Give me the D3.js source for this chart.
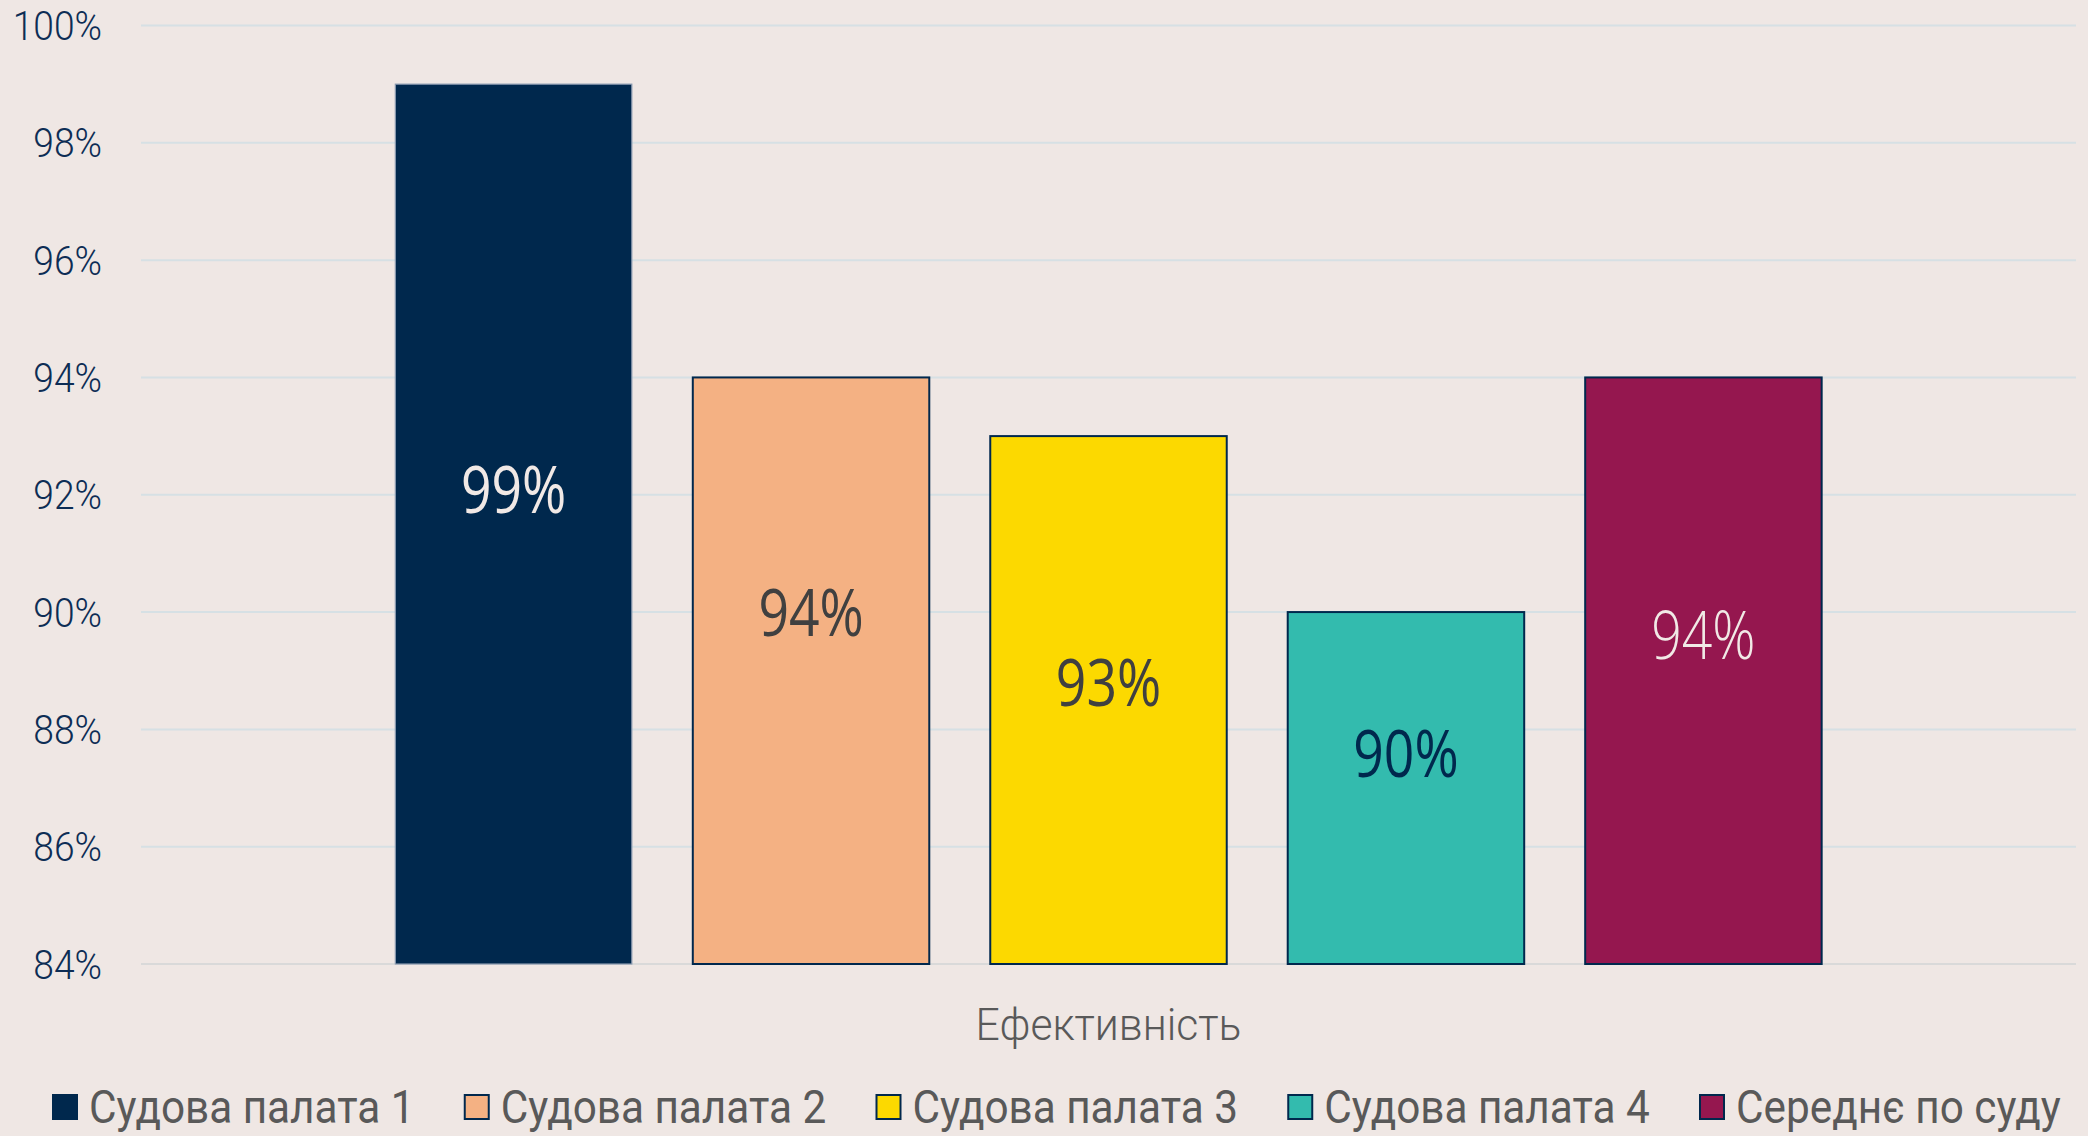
<!DOCTYPE html>
<html>
<head>
<meta charset="utf-8">
<script src="https://cdn.jsdelivr.net/npm/d3@7"></script>
<style>
  body { margin: 0; background: #efe7e4; }
  svg { display: block; }
</style>
</head>
<body>
<svg width="2088" height="1136"></svg>
<script>

// data
const category = "Ефективність";
const series = ["Судова палата 1", "Судова палата 2", "Судова палата 3", "Судова палата 4", "Середнє по суду"];
const values = [99, 94, 93, 90, 94];
// where each value label sits inside its bar (in % units)
const labelLevels = [92.1, 90.0, 88.8, 87.6, 89.6];
const tickValues = [84, 86, 88, 90, 92, 94, 96, 98, 100];

// styles
const fills = ["#00284d", "#f4b183", "#fcd900", "#33bbae", "#95174f"];
const labelColors = ["#f1e9e6", "#404040", "#404040", "#00284d", "#f1e9e6"];
const labelWeights = [400, 400, 400, 400, 300];

const svg = d3.select("svg");
svg.append("rect").attr("width", 2088).attr("height", 1136).attr("fill", "#efe7e4");

const plot = { left: 141, right: 2076, top: 25.5, bottom: 964 };

const y = d3.scaleLinear()
    .domain([84, 100])
    .range([plot.bottom, plot.top]);

const x0 = d3.scaleBand()
    .domain([category])
    .range([plot.left, plot.right]);

const x1 = d3.scaleBand()
    .domain(series)
    .range([x0(category), x0(category) + x0.bandwidth()])
    .paddingInner(0.205)
    .paddingOuter(0.855);

// gridlines
svg.append("g")
    .selectAll("line")
    .data(tickValues)
    .join("line")
    .attr("x1", plot.left)
    .attr("x2", plot.right)
    .attr("y1", d => y(d))
    .attr("y2", d => y(d))
    .attr("stroke", d => d === 84 ? "#d9d9d9" : "#d6e0e4")
    .attr("stroke-width", 2);

// y axis
const yAxis = svg.append("g")
    .attr("transform", "translate(102,0)")
    .call(d3.axisLeft(y).tickValues(tickValues).tickFormat(d => d + "%").tickSize(0).tickPadding(0));
yAxis.select(".domain").remove();
yAxis.selectAll("text")
    .attr("font-family", "Roboto, sans-serif")
    .attr("font-weight", 300)
    .attr("font-size", 40)
    .attr("fill", "#0d2d55")
    .attr("dy", "0.35em")
    .attr("transform", "scale(0.93,1)");

// bars
svg.append("g")
    .selectAll("rect")
    .data(series)
    .join("rect")
    .attr("x", d => x1(d))
    .attr("y", (d, i) => y(values[i]))
    .attr("width", x1.bandwidth())
    .attr("height", (d, i) => y(84) - y(values[i]))
    .attr("fill", (d, i) => fills[i])
    .attr("stroke", (d, i) => i === 0 ? "#8a9ab0" : "#00284d")
    .attr("stroke-width", (d, i) => i === 0 ? 1.2 : 2);

// value labels
svg.append("g")
    .selectAll("text")
    .data(series)
    .join("text")
    .attr("transform", (d, i) => `translate(${x1(d) + x1.bandwidth() / 2},${y(labelLevels[i])}) scale(0.81,1)`)
    .attr("text-anchor", "middle")
    .attr("dy", "0.36em")
    .attr("font-family", "'Open Sans', sans-serif")
    .attr("font-size", 66)
    .attr("font-weight", (d, i) => labelWeights[i])
    .attr("fill", (d, i) => labelColors[i])
    .text((d, i) => values[i] + "%");

// category label
svg.append("text")
    .attr("transform", `translate(${x0(category) + x0.bandwidth() / 2},1025) scale(0.97,1)`)
    .attr("text-anchor", "middle")
    .attr("dy", "0.35em")
    .attr("font-family", "Roboto, sans-serif")
    .attr("font-weight", 300)
    .attr("font-size", 44)
    .attr("fill", "#595959")
    .text(category);

// legend
const legendX = d3.scalePoint()
    .domain(series)
    .range([52, 1699]);

const legend = svg.append("g")
    .selectAll("g")
    .data(series)
    .join("g")
    .attr("transform", d => `translate(${legendX(d)},1106)`);

legend.append("rect")
    .attr("x", 1)
    .attr("y", -11)
    .attr("width", 24)
    .attr("height", 24)
    .attr("fill", (d, i) => fills[i])
    .attr("stroke", "#00284d")
    .attr("stroke-width", 2);

legend.append("text")
    .attr("transform", "translate(37,0) scale(0.9,1)")
    .attr("dy", "0.36em")
    .attr("font-family", "Roboto, sans-serif")
    .attr("font-size", 47)
    .attr("fill", "#595959")
    .text(d => d);

</script>
</body>
</html>
